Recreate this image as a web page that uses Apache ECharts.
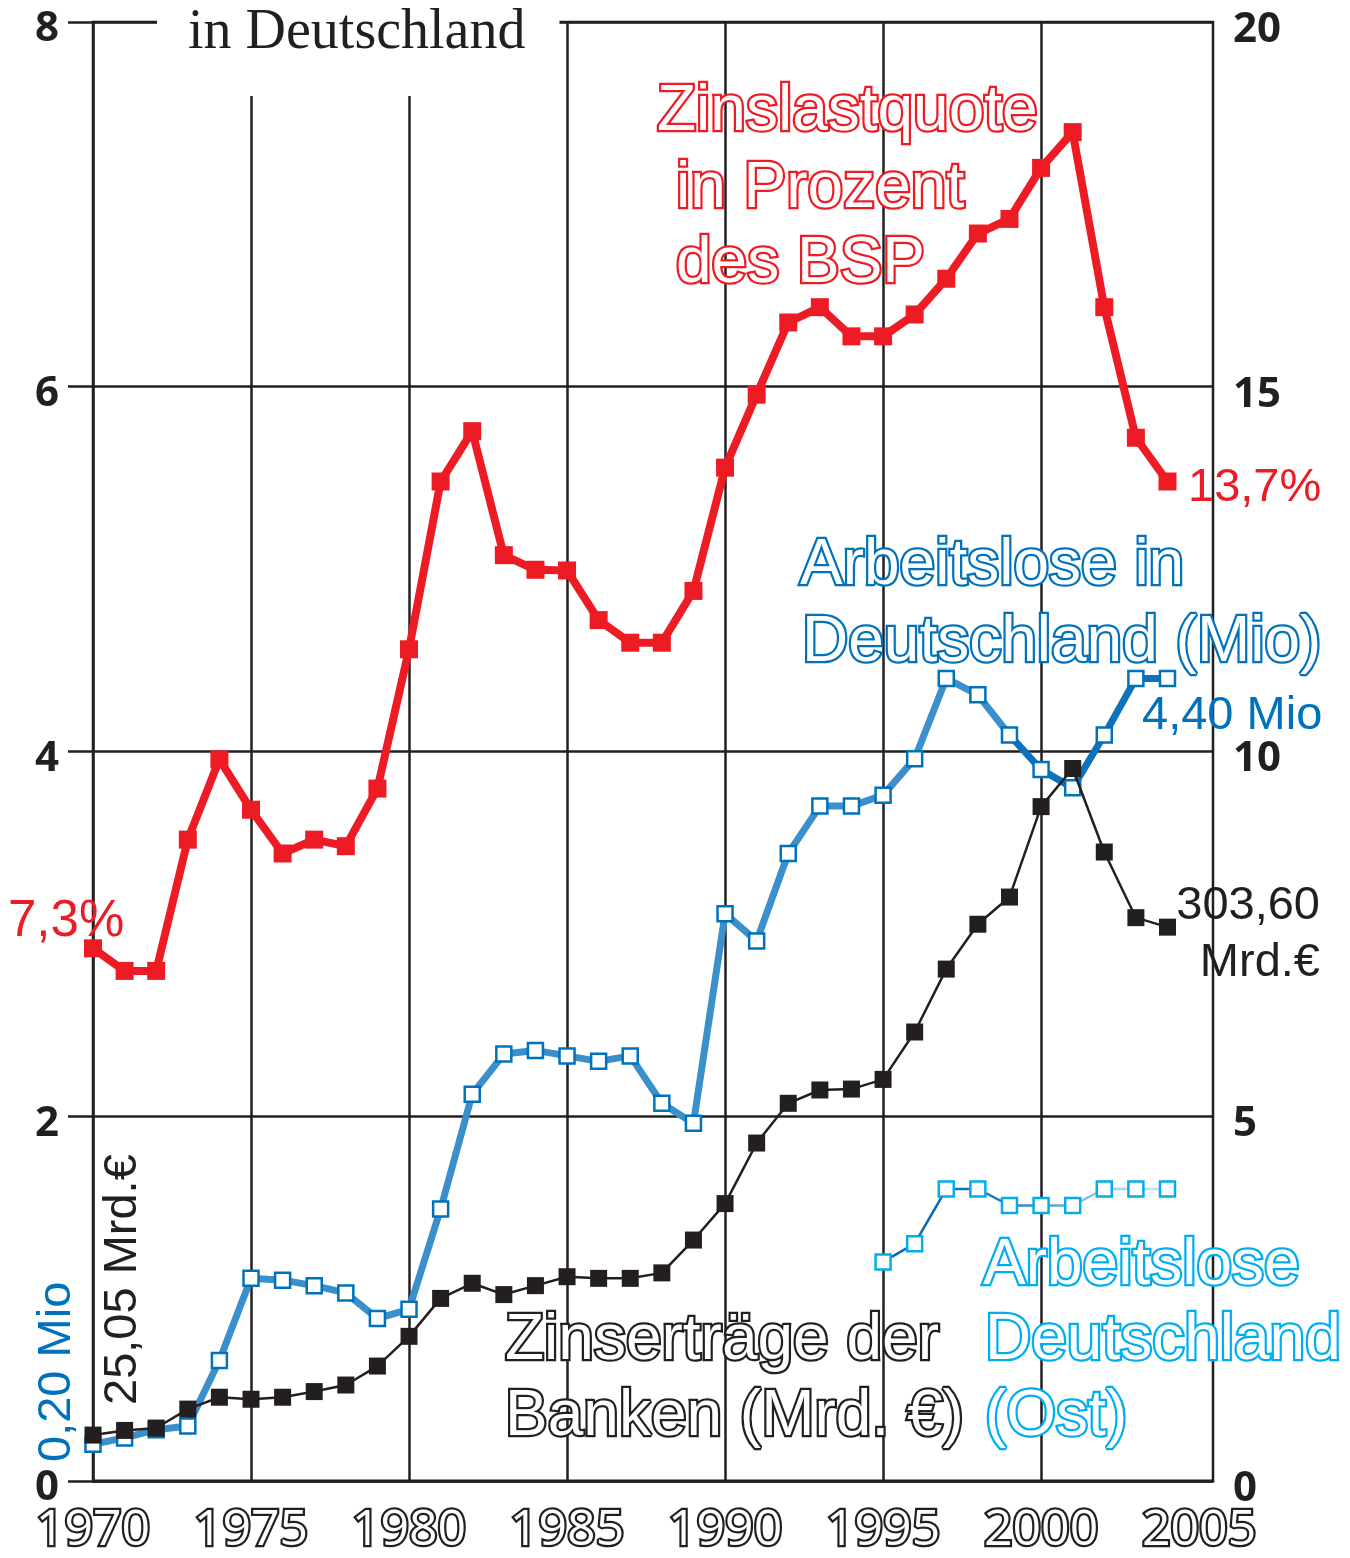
<!DOCTYPE html>
<html>
<head>
<meta charset="utf-8">
<script src="https://cdn.jsdelivr.net/npm/echarts@6/dist/echarts.min.js"></script>
<style>
html,body{margin:0;padding:0;background:#fff;}
#chart{width:1350px;height:1558px;}
</style>
</head>
<body>
<div id="chart"></div>
<script>
// ---- data ----
const years = [1970,1971,1972,1973,1974,1975,1976,1977,1978,1979,1980,1981,1982,1983,1984,1985,1986,1987,1988,1989,1990,1991,1992,1993,1994,1995,1996,1997,1998,1999,2000,2001,2002,2003,2004];
// Zinslastquote in Prozent des BSP (right axis)
const zinslastquote = [7.30,6.99,6.99,8.79,9.89,9.20,8.60,8.79,8.70,9.49,11.40,13.70,14.39,12.69,12.49,12.48,11.80,11.49,11.49,12.20,13.89,14.89,15.88,16.09,15.69,15.69,15.99,16.48,17.10,17.30,18.00,18.49,16.09,14.30,13.70];
// Arbeitslose in Deutschland (Mio) (left axis)
const arbeitslose = [0.20,0.235,0.28,0.30,0.66,1.11,1.10,1.07,1.03,0.89,0.94,1.49,2.12,2.34,2.36,2.33,2.30,2.33,2.07,1.96,3.11,2.96,3.44,3.70,3.70,3.76,3.96,4.40,4.31,4.09,3.90,3.80,4.09,4.40,4.40];
// Zinsertraege der Banken (Mrd. EUR)
const zinsertraege = [25.05,27.6,28.9,39.3,45.8,44.7,45.8,48.9,52.5,62.9,79.2,100.0,108.3,102.1,107.0,111.9,111.0,111.0,114.0,132.0,152.0,185.2,207.0,214.3,214.8,220.1,246.1,280.6,305.2,320.1,369.7,390.6,344.8,308.8,303.6];
// Arbeitslose Deutschland (Ost) (Mio)
const ostYears = [1995,1996,1997,1998,1999,2000,2001,2002,2003,2004];
const arbeitsloseOst = [1.20,1.30,1.60,1.60,1.51,1.51,1.51,1.60,1.60,1.60];
// axis ticks
const gridYears = [1975,1980,1985,1990,1995,2000];
const leftTicks = [0,2,4,6,8];
const rightTicks = [0,5,10,15,20];
// line colour changes (per segment, by year)
const blueDarkFrom = 1999;
const ostSegmentColors = ['#0a69b1','#0a69b1','#136cb2','#1a6eb4','#2a7fc0','#4a98d0','#7fb5de','#a0c8e8','#bcd9ef','#cde4f4'];

const pair = (xs, ys) => xs.map((x, i) => [x, ys[i]]);

const RED = '#ed1c24', BLUE = '#0072bc', LBLUE = '#00aeef', BLACK = '#231f20';
const SANS = '"Liberation Sans", Arial, sans-serif';

// gradient built from the year span of each line
const span = (xs, v) => (v - xs[0]) / (xs[xs.length - 1] - xs[0]);
const bf = span(years, blueDarkFrom);
const blueGrad = new echarts.graphic.LinearGradient(0, 0, 1, 0, [
  { offset: 0, color: '#3b8fcb' }, { offset: bf, color: '#3b8fcb' },
  { offset: bf, color: '#0b72bb' }, { offset: 1, color: '#0b72bb' }
]);
const ostGrad = new echarts.graphic.LinearGradient(0, 0, 1, 0,
  ostSegmentColors.map((c, i) => ({ offset: span(ostYears, ostYears[i]), color: c })));

function hollow(text, x, y, color) {
  return { type: 'text', x: x, y: y, z: 100,
    style: { text: text, font: '64px ' + SANS, fill: '#fff', stroke: color, lineWidth: 4.5,
             align: 'left', verticalAlign: 'middle' } };
}
function solid(text, x, y, color, align, rot, size) {
  return { type: 'text', x: x, y: y, z: 100, rotation: rot || 0,
    style: { text: text, font: (size || 47) + 'px ' + SANS, fill: color,
             align: align || 'left', verticalAlign: 'middle' } };
}

const chart = echarts.init(document.getElementById('chart'));
chart.setOption({
  animation: false,
  backgroundColor: '#fff',
  title: {
    text: 'in Deutschland', left: 157, top: 0,
    backgroundColor: '#fff', padding: [3, 34, 33, 31],
    textStyle: { fontFamily: '"Liberation Serif", "Times New Roman", serif', fontSize: 56, fontWeight: 'normal', color: BLACK, lineHeight: 60 }
  },
  grid: { left: 93, right: 137, top: 22, bottom: 70, show: true, borderColor: BLACK, borderWidth: 2.5 },
  xAxis: {
    type: 'value', min: 1970, max: 2005.44, interval: 5,
    axisLine: { show: true, lineStyle: { color: BLACK, width: 2.5 } },
    axisTick: { show: false }, splitLine: { show: false },
    axisLabel: {
      formatter: v => (Math.abs(v % 5) < 1e-6 ? String(v) : ''),
      fontFamily: '"Open Sans", sans-serif', fontSize: 50, color: '#fff',
      textBorderColor: BLACK, textBorderWidth: 4.5, margin: 25
    }
  },
  yAxis: [
    { type: 'value', min: 0, max: 8, interval: 2, position: 'left',
      axisLine: { show: true, lineStyle: { color: BLACK, width: 2.5 } },
      axisTick: { show: true, inside: false, length: 25, lineStyle: { color: BLACK, width: 2.5 } },
      splitLine: { show: true, lineStyle: { color: BLACK, width: 2.5 } },
      axisLabel: { fontFamily: '"Open Sans", sans-serif', fontWeight: 'bold', fontSize: 42, color: BLACK, margin: 34,
        verticalAlign: 'top', lineHeight: 15,
        formatter: v => (leftTicks.indexOf(v) >= 0 ? String(v) : '') } },
    { type: 'value', min: 0, max: 20, interval: 5, position: 'right',
      axisLine: { show: false }, axisTick: { show: false }, splitLine: { show: false },
      axisLabel: { fontFamily: '"Open Sans", sans-serif', fontWeight: 'bold', fontSize: 42, color: BLACK, margin: 20,
        verticalAlign: 'top', lineHeight: 16,
        formatter: v => (rightTicks.indexOf(v) >= 0 ? String(v) : '') } },
    { type: 'value', min: 0, max: 800, show: false, position: 'left' }
  ],
  series: [
    { name: 'Arbeitslose', type: 'line', yAxisIndex: 0, data: pair(years, arbeitslose),
      showSymbol: false, z: 2, lineStyle: { width: 7, color: blueGrad },
      markLine: { silent: true, z: 1, symbol: ['none', 'none'], label: { show: false },
        lineStyle: { type: 'solid', color: BLACK, width: 2.5 },
        data: gridYears.map(v => ({ xAxis: v })) } },
    { name: 'ArbeitsloseMarker', type: 'scatter', yAxisIndex: 0, data: pair(years, arbeitslose),
      symbol: 'rect', symbolSize: 15, z: 3,
      itemStyle: { color: '#fff', borderColor: BLUE, borderWidth: 2.5, opacity: 1 } },
    { name: 'Ost', type: 'line', yAxisIndex: 0, data: pair(ostYears, arbeitsloseOst),
      showSymbol: false, z: 2, lineStyle: { width: 2.5, color: ostGrad } },
    { name: 'OstMarker', type: 'scatter', yAxisIndex: 0, data: pair(ostYears, arbeitsloseOst),
      symbol: 'rect', symbolSize: 15, z: 3,
      itemStyle: { color: '#fff', borderColor: LBLUE, borderWidth: 2.5, opacity: 1 } },
    { name: 'Zinsertraege', type: 'line', yAxisIndex: 2, data: pair(years, zinsertraege),
      symbol: 'rect', symbolSize: 17, showSymbol: true, z: 4,
      lineStyle: { width: 2.5, color: BLACK }, itemStyle: { color: BLACK } },
    { name: 'Zinslastquote', type: 'line', yAxisIndex: 1, data: pair(years, zinslastquote),
      symbol: 'rect', symbolSize: 18, showSymbol: true, z: 5,
      lineStyle: { width: 8, color: RED }, itemStyle: { color: RED } }
  ],
  graphic: [
    hollow('Zinslastquote', 657, 112, RED),
    hollow('in Prozent', 676, 189, RED),
    hollow('des BSP', 676, 264, RED),
    hollow('Arbeitslose in', 800, 566, BLUE),
    hollow('Deutschland (Mio)', 802, 643, BLUE),
    hollow('Zinserträge der', 505, 1341, BLACK),
    hollow('Banken (Mrd. €)', 505, 1417, BLACK),
    hollow('Arbeitslose', 983, 1266, LBLUE),
    hollow('Deutschland', 985, 1341, LBLUE),
    hollow('(Ost)', 985, 1417, LBLUE),
    solid('7,3%', 8, 922, RED, 'left', 0, 51),
    solid('13,7%', 1188, 488, RED),
    solid('4,40 Mio', 1142, 716, BLUE),
    solid('303,60', 1320, 906, BLACK, 'right'),
    solid('Mrd.€', 1320, 963, BLACK, 'right'),
    solid('0,20 Mio', 57, 1462, BLUE, 'left', Math.PI / 2),
    solid('25,05 Mrd.€', 123, 1405, BLACK, 'left', Math.PI / 2)
  ]
});
</script>
</body>
</html>
